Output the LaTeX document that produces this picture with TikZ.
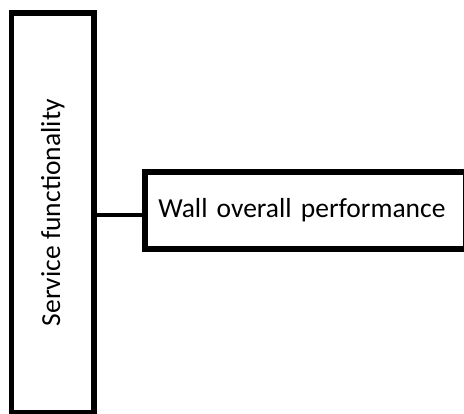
\documentclass[tikz,border=0pt]{standalone}
\usepackage{fontspec}
\setmainfont{Carlito}
\usepackage{tikz}
\usetikzlibrary{positioning}

\tikzset{
    block/.style={draw, line width=5.5pt, fill=white, inner sep=0pt},
    link/.style={line width=4pt}
}

\begin{document}
\begin{tikzpicture}[x=1pt, y=-1pt, font=\fontsize{27.5}{30}\selectfont]
                                \useasboundingbox (0, 0) rectangle (464, 414);
                                \clip (0, 0) rectangle (464, 414);

                                \node[block, minimum width=82.5pt, minimum height=399.5pt] (service) at (52.75, 212.75) {\rotatebox{90}{Service functionality}};
                                \node[block, minimum width=320.5pt, minimum height=77pt, text width=294pt, inner xsep=13.25pt, align=left] (wall) at (305.25, 210.5) {Wall overall performance};

                                \draw[link]
                                ([yshift=-4.5pt]wall.west) -- ([yshift=-4.5pt]wall.west -| service.east);
                            \end{tikzpicture}
\end{document}
